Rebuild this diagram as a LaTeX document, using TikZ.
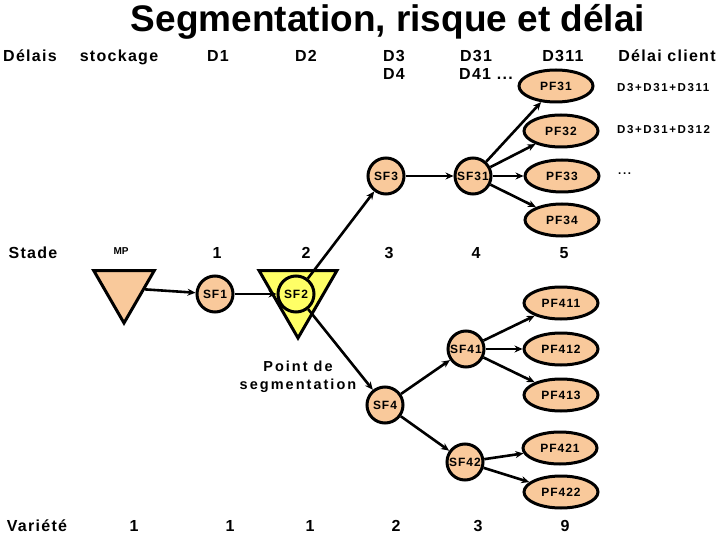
\documentclass[tikz,border=0pt]{standalone}
\usepackage{fontspec}
\setmainfont{Liberation Sans}
\usetikzlibrary{shapes.geometric,arrows.meta}
\definecolor{peach}{HTML}{F9C99B}
\definecolor{lyellow}{HTML}{FFFF66}
\begin{document}
\begin{tikzpicture}[x=1pt,y=-1pt,
 hdr/.style={font=\bfseries\fontsize{16}{18}\selectfont\addfontfeature{LetterSpace=8}, inner sep=0, text height=11.5pt, text depth=3pt},
 nodefont/.style={font=\bfseries\fontsize{12}{14}\selectfont\addfontfeature{LetterSpace=8}},
 sf/.style={circle,draw,line width=3pt,fill=peach,minimum size=36pt,inner sep=0,nodefont},
 pf/.style={ellipse,draw,line width=3pt,fill=peach,minimum width=74pt,minimum height=32pt,inner sep=0,nodefont},
 tri/.style={regular polygon,regular polygon sides=3,shape border rotate=180,draw,line width=3pt,inner sep=0},
 arr/.style={line width=2.6pt,-{Stealth[length=8pt,width=7pt]}},
 small/.style={font=\bfseries\fontsize{11.5}{13}\selectfont\addfontfeature{LetterSpace=14},inner sep=0}]
\useasboundingbox (0,0) rectangle (720,540);
\node[font=\bfseries\fontsize{37}{40}\selectfont] (title) at (388,22) {Segmentation, risque et délai};
% header row
\node[hdr] (hDel) at (30,57) {Délais};
\node[hdr] (hSto) at (119,57) {stockage};
\node[hdr] (hD1) at (218,57) {D1};
\node[hdr] (hD2) at (306,57) {D2};
\node[hdr] (hD3) at (394,57) {D3};
\node[hdr] (hD31) at (476,57) {D31};
\node[hdr] (hD311) at (563,57) {D311};
\node[hdr] (hCli) at (667,57) {Délai client};
\node[hdr] (hD4) at (394,75) {D4};
\node[hdr] (hD41) at (486,75) {D41 ...};
% stade row
\node[hdr] (sStade) at (33,254) {Stade};
\node[font=\bfseries\fontsize{10}{12}\selectfont,inner sep=0] (sMP) at (121,251) {MP};
\node[hdr] (s1) at (217,254) {1};
\node[hdr] (s2) at (306,254) {2};
\node[hdr] (s3) at (389,254) {3};
\node[hdr] (s4) at (476,254) {4};
\node[hdr] (s5) at (564,254) {5};
% variete row
\node[hdr] (vVar) at (37,527) {Variété};
\node[hdr] (v1) at (134,527) {1};
\node[hdr] (v2) at (230,527) {1};
\node[hdr] (v3) at (310,527) {1};
\node[hdr] (v4) at (396,527) {2};
\node[hdr] (v5) at (478,527) {3};
\node[hdr] (v6) at (565,527) {9};
% client delays
\node[small,anchor=west] (c1) at (617,88) {D3+D31+D311};
\node[small,anchor=west] (c2) at (617,130) {D3+D31+D312};
\node[small,anchor=west] (c3) at (618,174) {...};
% triangles
\node[tri,fill=peach,minimum size=70pt] (mp) at (124,288) {};
\node[tri,fill=lyellow,minimum size=90pt] (tri2) at (298,293) {};
% circles
\node[sf] (sf1) at (215,294) {SF1};
\node[sf,fill=lyellow] (sf2) at (296,294) {SF2};
\node[sf] (sf3) at (386,176) {SF3};
\node[sf] (sf31) at (473,176) {SF31};
\node[sf] (sf4) at (385,405) {SF4};
\node[sf] (sf41) at (466,349) {SF41};
\node[sf] (sf42) at (465,462) {SF42};
% ellipses
\node[pf] (pf31) at (556,86) {PF31};
\node[pf] (pf32) at (561,131) {PF32};
\node[pf] (pf33) at (562,176) {PF33};
\node[pf] (pf34) at (562,220) {PF34};
\node[pf] (pf411) at (561,303) {PF411};
\node[pf] (pf412) at (561,349) {PF412};
\node[pf] (pf413) at (561,395) {PF413};
\node[pf] (pf421) at (560,448) {PF421};
\node[pf] (pf422) at (561,492) {PF422};
% text
\node[font=\bfseries\fontsize{14.5}{18}\selectfont\addfontfeature{LetterSpace=14},align=center,inner sep=0] (pseg) at (298,377) {Point de\\segmentation};
% arrows
\draw[arr] (mp) -- (sf1);
\draw[arr] (sf1) -- (sf2);
\draw[arr] (sf2) -- (sf3);
\draw[arr] (sf2) -- (sf4);
\draw[arr] (sf3) -- (sf31);
\draw[arr] (sf31) -- (pf31);
\draw[arr] (sf31) -- (pf32);
\draw[arr] (sf31) -- (pf33);
\draw[arr] (sf31) -- (pf34);
\draw[arr] (sf4) -- (sf41);
\draw[arr] (sf4) -- (sf42);
\draw[arr] (sf41) -- (pf411);
\draw[arr] (sf41) -- (pf412);
\draw[arr] (sf41) -- (pf413);
\draw[arr] (sf42) -- (pf421);
\draw[arr] (sf42) -- (pf422);
\end{tikzpicture}
\end{document}
